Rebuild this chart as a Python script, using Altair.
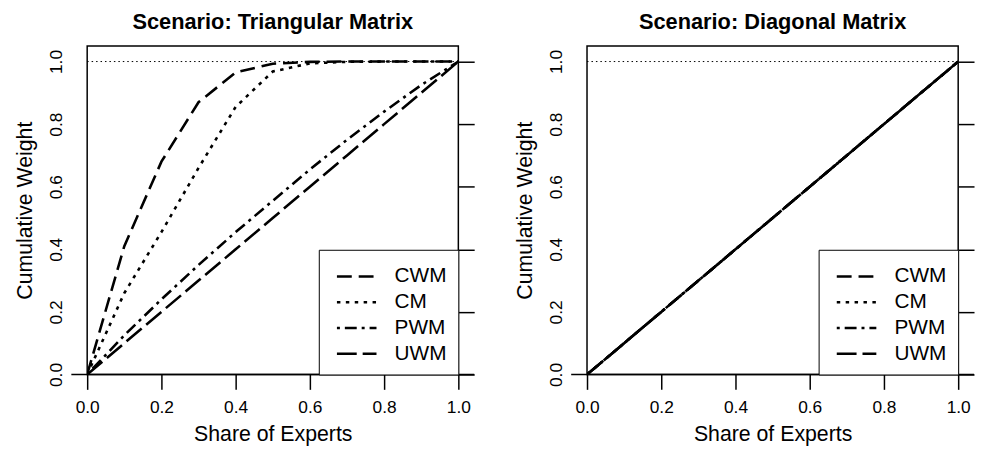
import altair as alt
import pandas as pd

methods = ["CWM", "CM", "PWM", "UWM"]
dashes = [[15, 7], [3.5, 5.5], [3, 5, 12, 5], [20, 6]]

# Scenario: Triangular Matrix
share_tri = [0.0, 0.1, 0.2, 0.3, 0.4, 0.5, 0.6, 0.7, 0.8, 0.9, 1.0]
cwm_tri = [0.0, 0.41, 0.68, 0.87, 0.965, 0.993, 0.999, 1.0, 1.0, 1.0, 1.0]
cm_tri = [0.0, 0.26, 0.455, 0.66, 0.855, 0.968, 0.994, 0.999, 1.0, 1.0, 1.0]
pwm_tri = [0.0, 0.125, 0.24, 0.35, 0.455, 0.555, 0.655, 0.75, 0.84, 0.925, 1.0]
uwm_tri = [0.0, 0.1, 0.2, 0.3, 0.4, 0.5, 0.6, 0.7, 0.8, 0.9, 1.0]

# Scenario: Diagonal Matrix
share_diag = [0.0, 0.1, 0.2, 0.3, 0.4, 0.5, 0.6, 0.7, 0.8, 0.9, 1.0]
cwm_diag = [0.0, 0.1, 0.2, 0.3, 0.4, 0.5, 0.6, 0.7, 0.8, 0.9, 1.0]
cm_diag = [0.0, 0.1, 0.2, 0.3, 0.4, 0.5, 0.6, 0.7, 0.8, 0.9, 1.0]
pwm_diag = [0.0, 0.1, 0.2, 0.3, 0.4, 0.5, 0.6, 0.7, 0.8, 0.9, 1.0]
uwm_diag = [0.0, 0.1, 0.2, 0.3, 0.4, 0.5, 0.6, 0.7, 0.8, 0.9, 1.0]

tick_values = [0.0, 0.2, 0.4, 0.6, 0.8, 1.0]
ref_level = [1.0]
base_level = [0.0]

FONT = "Liberation Sans"
W, H = 375, 332


def long_df(share, series):
    rows = []
    for m, ys in zip(methods, series):
        for s, y in zip(share, ys):
            rows.append({"share": s, "weight": y, "method": m})
    return pd.DataFrame(rows)


def panel(df, title):
    yscale = alt.Scale(domain=[0, 1.05], nice=False, zero=False)
    xscale = alt.Scale(domain=[0, 1], nice=False, zero=False)
    lines = alt.Chart(df).mark_line(strokeWidth=2.6, color="black", clip=True).encode(
        x=alt.X("share:Q", scale=xscale,
                axis=alt.Axis(values=tick_values, format=".1f", tickSize=15, tickWidth=1.5,
                              tickColor="black", domain=False, grid=False, labelFlush=False,
                              labelFontSize=17.5, labelFont=FONT, labelColor="black",
                              labelBaseline="alphabetic", labelPadding=23, labelAngle=0,
                              title="Share of Experts", titleFontSize=21.5, titleFont=FONT,
                              titleFontWeight="normal", titleColor="black",
                              titleX=W / 2, titleY=67, titleBaseline="alphabetic",
                              titleAlign="center")),
        y=alt.Y("weight:Q", scale=yscale,
                axis=alt.Axis(orient="left", values=tick_values, format=".1f",
                              ticks=False, tickSize=0, domain=False, grid=False,
                              labelFlush=False,
                              labelFontSize=17.5, labelFont=FONT, labelColor="black",
                              labelAngle=270, labelAlign="center", labelBaseline="alphabetic",
                              labelPadding=26,
                              title="Cumulative Weight", titleFontSize=21.5, titleFont=FONT,
                              titleFontWeight="normal", titleColor="black",
                              titleAngle=270, titleX=-56, titleY=H / 2,
                              titleBaseline="alphabetic", titleAlign="center")),
        strokeDash=alt.StrokeDash(
            "method:N",
            scale=alt.Scale(domain=methods, range=dashes),
            legend=alt.Legend(title=None, orient="bottom-right", offset=0, padding=11,
                              strokeColor="black", fillColor="white", cornerRadius=0,
                              symbolType="M-0.59,0H2.13", symbolSize=864,
                              symbolStrokeWidth=2.6, symbolStrokeColor="black",
                              symbolOffset=0, labelOffset=33.6,
                              labelFontSize=21, labelFont=FONT, labelColor="black",
                              rowPadding=-7),
        ),
        order="share:Q",
    )
    ref = alt.Chart(pd.DataFrame({"weight": ref_level})).mark_rule(
        strokeDash=[1.5, 3], strokeWidth=1, color="black"
    ).encode(
        y=alt.Y("weight:Q", scale=yscale,
                axis=alt.Axis(orient="right", values=tick_values, labels=False, tickSize=16,
                              tickWidth=1.5, tickColor="black", domain=False, grid=False,
                              title=None))
    )
    zero = alt.Chart(pd.DataFrame({"weight": base_level})).mark_rule(
        strokeWidth=1.5, color="black"
    ).encode(
        x=alt.value(-16), x2=alt.value(W + 16),
        y=alt.Y("weight:Q", scale=yscale, axis=None),
    )
    return alt.layer(lines, ref, zero).resolve_axis(y="independent").properties(
        width=W, height=H,
        title=alt.TitleParams(title, fontSize=22, fontWeight="bold", font=FONT,
                              color="black", anchor="middle", offset=12),
    )


left = panel(long_df(share_tri, [cwm_tri, cm_tri, pwm_tri, uwm_tri]), "Scenario: Triangular Matrix")
right = panel(long_df(share_diag, [cwm_diag, cm_diag, pwm_diag, uwm_diag]), "Scenario: Diagonal Matrix")

chart = alt.hconcat(left, right, spacing=38).resolve_scale(strokeDash="independent").configure_view(
    stroke="black", strokeWidth=1.5
).properties(
    padding={"left": 6, "top": 0, "right": 0, "bottom": 0}, background="white"
)

chart.save("out.html", embed_options={"renderer": "svg", "actions": False})
